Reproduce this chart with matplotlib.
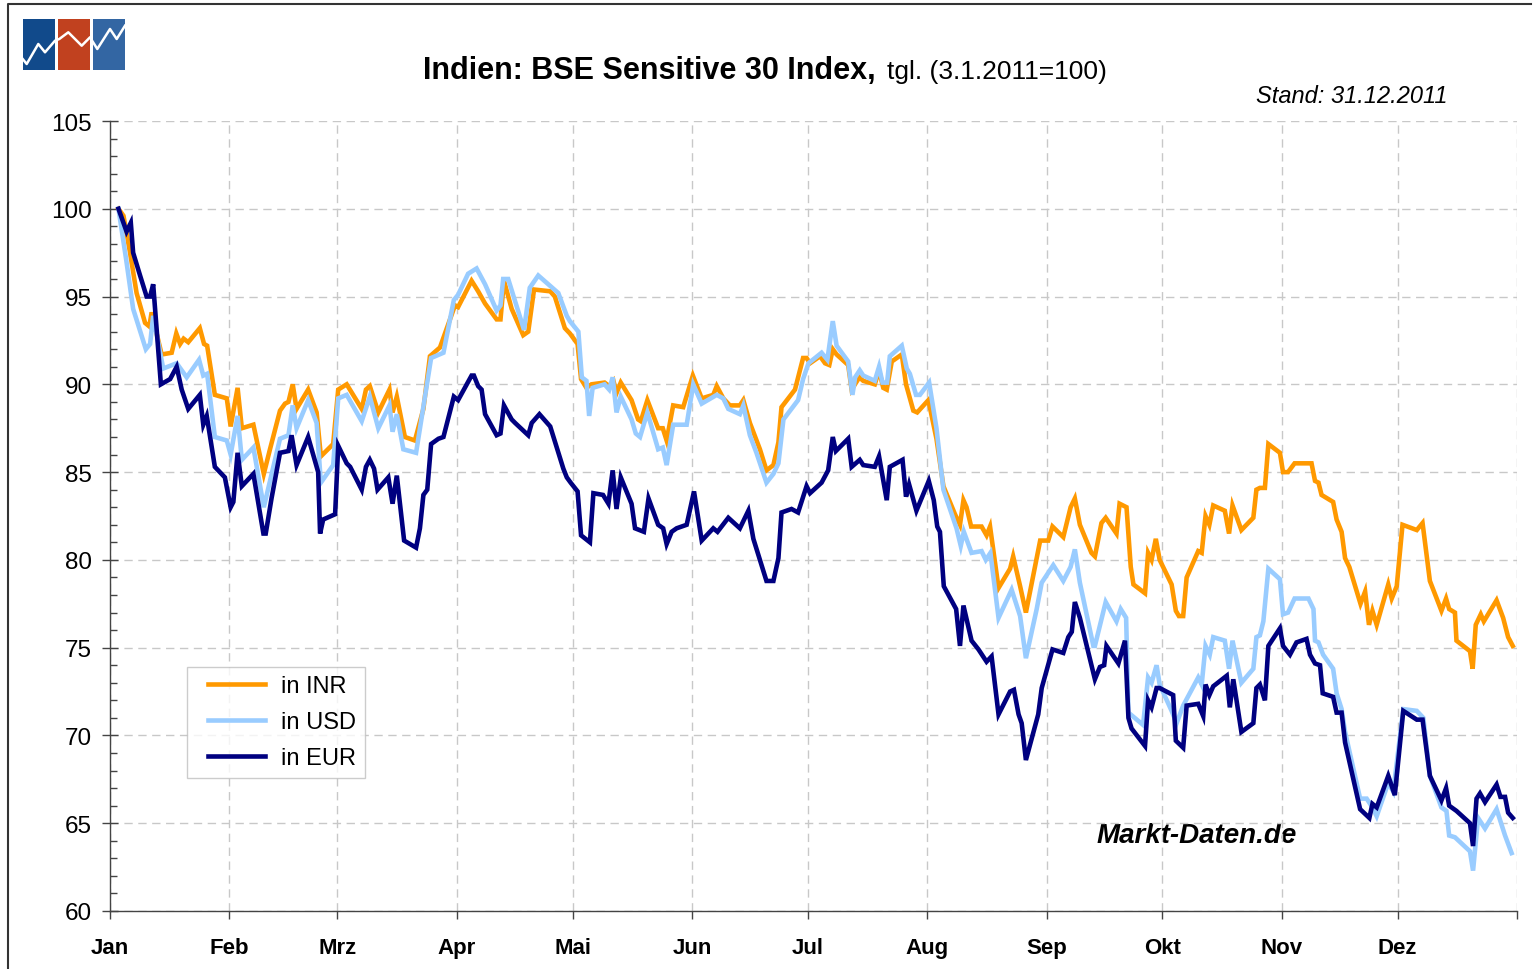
import numpy as np
import matplotlib
matplotlib.use("Agg")
import matplotlib.pyplot as plt
from matplotlib.patches import Rectangle
from matplotlib.legend_handler import HandlerLine2D
from matplotlib.ticker import MultipleLocator, FixedLocator, NullFormatter

plt.rcParams["font.family"] = ["Liberation Sans", "DejaVu Sans"]

W, H = 1537, 970  # pixels of the output image

# Monatsanfaenge (Tag im Jahr 2011, Tag 0 = 1. Januar) und deutsche Kuerzel
month_days = [0, 31, 59, 90, 120, 151, 181, 212, 243, 273, 304, 334, 365]
month_labels = ["Jan", "Feb", "Mrz", "Apr", "Mai", "Jun", "Jul", "Aug", "Sep", "Okt", "Nov", "Dez", ""]

# BSE Sensex in INR (3.1.2011 = 100)
days_inr = [2.2, 3.5, 5.2, 6.9, 9.1, 10.2, 10.8, 13.4, 16.0, 17.2, 18.2, 19.1, 20.3, 23.3, 24.4, 25.2,
            27.2, 30.3, 31.3, 33.1, 34.2, 37.2, 39.9, 41.5, 44.1, 45.4, 46.3, 47.4, 48.4, 51.4, 53.6,
            54.7, 57.9, 59.2, 61.4, 65.3, 66.4, 67.4, 69.6, 72.5, 73.3, 74.4, 76.5, 79.1, 81.3, 83.0,
            85.6, 89.5, 90.3, 93.8, 95.5, 97.3, 100.3, 101.3, 102.2, 104.2, 107.2, 108.5, 110.0, 114.2,
            115.4, 118.0, 119.3, 121.3, 122.2, 123.6, 124.9, 128.3, 129.5, 130.6, 131.4, 132.5, 135.3,
            137.0, 137.7, 139.4, 142.2, 143.4, 144.4, 146.1, 148.7, 151.2, 153.5, 156.5, 157.4, 159.1,
            160.8, 163.4, 164.3, 166.0, 168.6, 170.3, 172.1, 173.4, 174.2, 177.7, 179.8, 180.7, 181.6,
            184.2, 185.5, 186.6, 187.5, 188.5, 191.5, 192.4, 194.4, 195.4, 198.4, 199.5, 200.6, 201.5,
            202.8, 205.4, 206.5, 207.5, 208.4, 209.4, 212.3, 214.4, 216.2, 219.2, 220.5, 221.4, 222.2,
            223.4, 226.1, 227.4, 228.3, 230.5, 233.5, 234.3, 236.1, 237.6, 241.3, 243.4, 244.5, 247.3,
            249.2, 250.3, 251.6, 254.6, 255.5, 257.2, 258.3, 261.1, 261.9, 263.7, 264.8, 265.5, 268.5,
            269.3, 270.2, 271.3, 272.3, 275.4, 276.5, 277.3, 278.4, 279.3, 282.3, 283.2, 284.2, 285.2,
            286.2, 289.2, 290.3, 291.2, 293.5, 296.6, 297.4, 298.3, 299.6, 300.5, 303.5, 304.3, 305.6,
            307.3, 308.7, 311.7, 312.6, 313.5, 314.3, 317.3, 318.2, 319.5, 320.4, 321.5, 324.4, 325.6,
            326.6, 327.5, 328.6, 331.6, 332.5, 333.8, 335.3, 339.0, 340.5, 342.4, 345.4, 346.6, 347.4,
            348.9, 349.3, 352.8, 353.5, 354.3, 355.6, 356.4, 359.7, 361.4, 362.7, 363.9]
inr = [100.0, 99.6, 97.5, 95.2, 93.5, 93.3, 94.1, 91.7, 91.8, 92.9, 92.3, 92.6, 92.4, 93.2, 92.3, 92.2,
       89.4, 89.2, 87.6, 89.8, 87.5, 87.7, 84.9, 86.3, 88.5, 88.9, 89.0, 90.0, 88.6, 89.7, 88.4,
       85.9, 86.6, 89.7, 90.0, 88.6, 89.7, 89.9, 88.4, 89.7, 88.4, 89.3, 87.0, 86.8, 88.6, 91.6,
       92.1, 94.5, 94.4, 95.9, 95.3, 94.6, 93.7, 93.7, 95.9, 94.3, 92.8, 93.0, 95.4, 95.3,
       95.0, 93.2, 92.9, 92.3, 90.3, 89.8, 90.0, 90.1, 89.9, 90.2, 89.5, 90.1, 89.1,
       88.0, 87.9, 89.1, 87.5, 87.5, 86.8, 88.8, 88.7, 90.5, 89.2, 89.4, 89.9, 89.2,
       88.8, 88.8, 89.1, 87.8, 86.3, 85.1, 85.4, 86.7, 88.7, 89.7, 91.5, 91.5, 91.2,
       91.6, 91.2, 91.1, 92.0, 91.7, 91.1, 89.7, 90.4, 90.2, 90.0, 90.8, 89.8, 89.7,
       91.3, 91.7, 90.0, 89.2, 88.5, 88.4, 89.1, 86.9, 84.2, 82.6, 82.0, 83.4, 83.0,
       81.9, 81.9, 81.4, 81.9, 78.4, 79.5, 80.2, 78.5, 77.0, 81.1, 81.1, 81.9, 81.3,
       83.0, 83.5, 82.0, 80.4, 80.2, 82.1, 82.4, 81.5, 83.2, 83.0, 79.6, 78.6, 78.1,
       80.4, 80.0, 81.2, 80.0, 78.6, 77.1, 76.8, 76.8, 79.0, 80.5, 80.4, 82.5, 82.0,
       83.1, 82.8, 81.5, 83.1, 81.7, 82.4, 84.0, 84.1, 84.1, 86.6, 86.1, 85.0, 85.0,
       85.5, 85.5, 85.5, 84.5, 84.4, 83.7, 83.3, 82.3, 81.6, 80.1, 79.6, 77.5, 78.2,
       76.3, 77.1, 76.3, 78.6, 77.8, 78.5, 82.0, 81.7, 82.1, 78.8, 77.1, 77.8, 77.2,
       77.0, 75.4, 74.8, 73.8, 76.3, 76.9, 76.5, 77.7, 76.7, 75.6, 75.1]

# in USD
days_usd = [2.2, 4.2, 6.0, 9.3, 10.4, 11.2, 13.8, 17.3, 19.9, 23.1, 24.2, 25.2, 27.2, 30.3, 31.3, 33.1,
            34.2, 37.2, 39.9, 44.1, 46.3, 47.4, 48.4, 51.4, 53.6, 54.7, 57.9, 59.2, 61.4, 65.3, 67.4,
            69.6, 72.5, 73.3, 74.4, 76.1, 79.4, 81.7, 83.3, 86.5, 89.2, 90.3, 92.9, 95.1, 97.3, 100.3,
            101.3, 102.0, 103.3, 107.4, 108.9, 111.1, 116.3, 118.5, 119.3, 121.5, 122.4, 123.6, 124.3,
            125.2, 128.3, 129.5, 130.4, 131.4, 132.5, 135.3, 136.4, 137.5, 139.4, 142.2, 143.4, 144.4,
            146.1, 149.6, 151.3, 153.5, 157.4, 159.1, 160.4, 163.4, 164.3, 166.0, 167.7, 170.3, 172.1,
            173.4, 174.7, 178.5, 179.8, 181.2, 184.6, 186.1, 187.5, 188.5, 191.5, 192.6, 193.3, 194.5,
            195.4, 198.4, 199.5, 200.4, 201.6, 202.3, 205.4, 206.7, 207.5, 209.1, 210.1, 212.5, 214.4,
            216.2, 217.9, 219.6, 220.7, 221.5, 223.5, 226.1, 227.2, 228.4, 230.5, 233.9, 236.1, 237.6,
            240.4, 241.7, 244.7, 247.3, 249.2, 250.3, 251.6, 255.1, 255.5, 258.3, 261.1, 262.2, 263.6,
            264.2, 268.0, 269.3, 270.2, 271.5, 272.3, 275.4, 276.7, 278.4, 282.3, 283.2, 284.2, 285.3,
            286.2, 289.2, 290.3, 291.2, 293.5, 296.6, 297.4, 298.3, 299.2, 300.5, 303.5, 304.3, 305.6,
            307.3, 308.7, 310.9, 312.2, 312.6, 313.5, 314.7, 317.3, 318.2, 319.5, 320.4, 324.3, 326.0,
            327.5, 328.6, 331.6, 332.9, 335.5, 339.0, 340.7, 342.4, 345.4, 346.7, 347.4, 348.9, 352.8,
            353.6, 354.9, 356.7, 359.7, 361.9, 363.6]
usd = [100.0, 97.1, 94.3, 92.0, 92.3, 93.9, 90.9, 91.2, 90.4, 91.4, 90.5, 90.6, 87.0, 86.8, 86.0, 88.2,
       85.7, 86.4, 83.0, 86.9, 87.1, 88.8, 87.5, 89.1, 87.8, 84.4, 85.4, 89.2, 89.4, 87.9, 89.3,
       87.5, 88.8, 87.3, 88.3, 86.3, 86.1, 89.3, 91.5, 91.8, 94.8, 95.1, 96.3, 96.6, 95.7, 94.2,
       94.5, 96.0, 96.0, 93.1, 95.5, 96.2, 95.2, 93.9, 93.6, 93.0, 90.4, 90.2, 88.2,
       89.8, 90.0, 89.7, 90.4, 88.4, 89.3, 88.0, 87.2, 87.0, 88.4, 86.3, 86.4, 85.4,
       87.7, 87.7, 90.0, 88.9, 89.4, 89.2, 88.6, 88.3, 88.8, 87.1, 86.1, 84.4, 84.9,
       85.5, 88.0, 89.1, 90.3, 91.2, 91.8, 91.4, 93.6, 92.2, 91.3, 89.4, 90.4, 90.8,
       90.5, 90.2, 91.0, 90.1, 90.1, 91.6, 92.2, 90.9, 90.6, 89.4, 89.4, 90.1, 87.5,
       84.0, 82.9, 81.8, 80.8, 81.6, 80.4, 80.5, 80.0, 80.4, 76.7, 78.3, 76.8, 74.4,
       77.2, 78.7, 79.7, 78.8, 79.6, 80.6, 78.7, 75.1, 75.1, 77.6, 76.5, 77.2, 76.7,
       71.3, 70.6, 73.3, 73.0, 74.0, 72.9, 71.4, 70.7, 71.7, 73.3, 72.9, 75.1, 74.6,
       75.6, 75.4, 73.8, 75.4, 73.0, 73.8, 75.6, 75.7, 76.5, 79.5, 78.9, 76.9, 77.0,
       77.8, 77.8, 77.8, 77.2, 75.4, 75.3, 74.6, 73.8, 72.4, 71.5, 70.2, 66.4, 66.4,
       65.9, 65.4, 67.3, 66.8, 71.5, 71.4, 71.0, 67.7, 65.9, 65.7, 64.3, 64.2, 63.4,
       62.3, 65.3, 64.7, 65.8, 64.3, 63.3]

# in EUR
days_eur = [2.2, 4.3, 5.4, 6.0, 7.8, 9.5, 10.4, 11.2, 13.2, 15.6, 17.3, 18.6, 20.3, 23.3, 24.2, 25.1,
            27.2, 29.8, 31.3, 32.0, 33.1, 34.2, 37.2, 39.8, 40.4, 41.9, 44.1, 46.3, 47.1, 48.4, 51.4,
            54.0, 54.5, 55.3, 58.4, 59.2, 61.4, 62.3, 65.3, 66.4, 67.4, 68.5, 69.4, 72.2, 73.3, 74.4,
            76.3, 79.4, 80.4, 81.3, 82.3, 83.3, 85.2, 86.5, 89.2, 90.3, 93.8, 94.4, 95.5, 96.4, 97.3,
            100.3, 101.3, 102.2, 104.2, 105.1, 108.5, 109.4, 111.4, 114.2, 117.6, 118.5, 119.5, 121.3,
            122.2, 124.5, 125.4, 127.9, 129.3, 130.4, 131.4, 132.5, 135.3, 136.2, 138.5, 139.7, 142.2,
            143.5, 144.4, 145.7, 147.0, 149.6, 151.5, 153.5, 156.5, 157.6, 160.4, 163.4, 165.6, 166.9,
            170.3, 172.1, 173.4, 174.2, 176.8, 178.5, 180.7, 181.6, 184.6, 186.3, 187.5, 188.3, 191.5,
            192.4, 194.5, 195.4, 198.4, 199.5, 201.5, 202.3, 205.6, 206.5, 207.3, 209.2, 212.4, 213.7,
            214.6, 215.3, 216.3, 219.5, 220.5, 221.4, 223.5, 225.3, 227.4, 228.7, 230.5, 233.5, 234.5,
            235.7, 236.5, 237.6, 240.8, 241.7, 244.5, 247.3, 248.6, 249.5, 250.3, 251.6, 255.5, 256.8,
            257.9, 258.5, 261.6, 263.3, 264.2, 265.0, 268.5, 269.3, 270.2, 271.5, 272.3, 275.8, 276.5,
            278.4, 279.3, 282.3, 283.6, 284.2, 285.2, 286.2, 289.7, 290.5, 291.4, 293.5, 296.6, 297.4,
            298.3, 299.6, 300.5, 303.5, 304.3, 306.1, 307.8, 310.4, 311.3, 312.6, 313.9, 314.6, 317.3,
            318.2, 319.5, 320.4, 324.3, 326.7, 327.5, 328.6, 331.6, 333.3, 335.5, 339.0, 340.5, 342.4,
            345.4, 346.6, 347.4, 349.3, 352.8, 353.6, 354.5, 355.4, 356.7, 359.7, 360.7, 361.9, 362.7,
            363.9]
eur = [100.0, 98.7, 99.2, 97.5, 96.2, 95.0, 95.0, 95.7, 90.0, 90.3, 91.0, 89.7, 88.6, 89.4, 87.7, 88.2,
       85.3, 84.7, 83.0, 83.3, 86.1, 84.2, 84.9, 81.5, 81.5, 83.5, 86.1, 86.2, 87.1, 85.4, 87.0,
       85.0, 81.5, 82.3, 82.6, 86.5, 85.5, 85.3, 84.0, 85.3, 85.7, 85.2, 84.0, 84.7, 83.2, 84.8,
       81.1, 80.7, 81.8, 83.7, 84.0, 86.6, 86.9, 87.0, 89.3, 89.1, 90.5, 90.5, 89.9, 89.7, 88.3,
       87.1, 87.2, 88.8, 88.0, 87.8, 87.1, 87.8, 88.3, 87.6, 85.2, 84.7, 84.4, 83.9,
       81.4, 81.0, 83.8, 83.7, 83.2, 85.1, 82.9, 84.7, 83.2, 81.8, 81.6, 83.5, 82.0,
       81.8, 80.9, 81.6, 81.8, 82.0, 83.9, 81.1, 81.8, 81.6, 82.4, 81.8, 82.8, 81.2,
       78.8, 78.8, 80.1, 82.7, 82.9, 82.7, 84.2, 83.8, 84.4, 85.1, 87.0, 86.2, 86.9,
       85.3, 85.7, 85.4, 85.3, 85.9, 83.4, 85.3, 85.7, 83.6, 84.3, 82.8, 84.5, 83.4,
       81.9, 81.6, 78.5, 77.2, 75.1, 77.4, 75.4, 74.9, 74.2, 74.5, 71.2, 72.5, 72.6,
       71.2, 70.7, 68.6, 71.2, 72.7, 74.9, 74.7, 75.6, 75.9, 77.6, 76.7, 73.2, 73.9,
       74.0, 75.1, 74.1, 75.4, 71.0, 70.4, 69.4, 72.0, 71.6, 72.7, 72.7, 72.3, 69.7,
       69.3, 71.7, 71.8, 71.1, 72.9, 72.3, 72.8, 73.4, 71.6, 73.2, 70.2, 70.7, 72.7,
       72.9, 72.0, 75.1, 76.1, 75.1, 74.6, 75.3, 75.5, 74.6, 74.1, 74.0, 72.4, 72.2,
       71.3, 71.3, 69.6, 65.8, 65.3, 66.1, 65.9, 67.7, 66.6, 71.4, 70.9, 70.9, 67.7,
       66.3, 67.0, 66.0, 65.7, 65.0, 63.7, 66.4, 66.7, 66.2, 67.2, 66.5, 66.5, 65.6,
       65.3]

series = [
    ("in INR", days_inr, inr, "#ff9900"),
    ("in USD", days_usd, usd, "#99ccff"),
    ("in EUR", days_eur, eur, "#000080"),
]


def px_to_fig(x0, y0, x1, y1):
    """Pixelrechteck (oben links, unten rechts) -> Figurkoordinaten [l, b, w, h]"""
    return [x0 / W, 1 - y1 / H, (x1 - x0) / W, (y1 - y0) / H]


fig = plt.figure(figsize=(W / 100, H / 100), dpi=100)

# Hintergrund-Achse in Pixelkoordinaten fuer Rahmen, Logo und Texte
bg = fig.add_axes([0, 0, 1, 1])
bg.set_xlim(0, W)
bg.set_ylim(H, 0)
bg.axis("off")

# Rahmen (links und oben sichtbar)
bg.plot([8, 8, 1531], [H, 5, 5], color="#333333", lw=1.5)

# Logo: drei Quadrate mit weisser Zickzacklinie
for x0, c in [(22.7, "#114a8b"), (57.7, "#c1411f"), (92.7, "#3366a3")]:
    bg.add_patch(Rectangle((x0, 20), 32.3, 50.7, facecolor=c, edgecolor="none"))
zig_x = [22.7, 26.7, 38.3, 45, 55, 59.3, 68.3, 81.7, 90, 97.3, 110, 116.7, 125]
zig_y = [60, 65, 45, 53.3, 41.7, 40, 33.3, 46.7, 38.3, 50, 30, 40, 26.7]
bg.plot(zig_x, zig_y, color="white", lw=1.8)

# Titel und Beschriftungen
bg.text(423, 79, "Indien: BSE Sensitive 30 Index,", fontsize=22, fontweight="bold",
        ha="left", va="baseline")
bg.text(887, 79, "tgl. (3.1.2011=100)", fontsize=19, ha="left", va="baseline")
bg.text(1448, 103, "Stand: 31.12.2011", fontsize=17, style="italic", ha="right", va="baseline")
bg.text(1097, 843, "Markt-Daten.de", fontsize=20, fontweight="bold", style="italic",
        ha="left", va="baseline")

# Diagramm
ax = fig.add_axes(px_to_fig(110, 122, 1517, 912))
ax.patch.set_alpha(0)
for label, d, v, c in series:
    ax.plot(d, v, color=c, lw=3.3, label=label, solid_joinstyle="miter", zorder=3)

ax.set_xlim(0, 365)
ax.set_ylim(60, 105)

ax.xaxis.set_major_locator(FixedLocator(month_days))
ax.set_xticklabels(month_labels, fontsize=16, fontweight="bold")
ax.tick_params(axis="x", direction="out", length=6, width=1, color="#444444", pad=12.5)

ax.yaxis.set_major_locator(MultipleLocator(5))
ax.yaxis.set_minor_locator(MultipleLocator(1))
ax.yaxis.set_minor_formatter(NullFormatter())
ax.tick_params(axis="y", which="major", direction="inout", length=12, width=1,
               color="#444444", labelsize=17.5, pad=7)
ax.tick_params(axis="y", which="minor", direction="in", length=5, width=1, color="#444444")

ax.grid(True, which="major", color="#c8c8c8", lw=1, linestyle=(0, (6, 4)))
for side in ["top", "right"]:
    ax.spines[side].set_visible(False)
for side in ["left", "bottom"]:
    ax.spines[side].set_color("#444444")
    ax.spines[side].set_linewidth(1)

# Legende: Linie etwas eingerueckt wie im Original
leg = ax.legend(loc="upper left", bbox_to_anchor=(0.0547, 0.309), borderaxespad=0,
                fontsize=17, frameon=True, fancybox=False, handlelength=2.95,
                handletextpad=0.7, borderpad=0.35, labelspacing=0.6,
                handler_map={plt.Line2D: HandlerLine2D(xpad=0.55)})
leg.get_frame().set_edgecolor("#c0c0c0")
leg.get_frame().set_linewidth(1)

fig.savefig("out.png", dpi=100)
